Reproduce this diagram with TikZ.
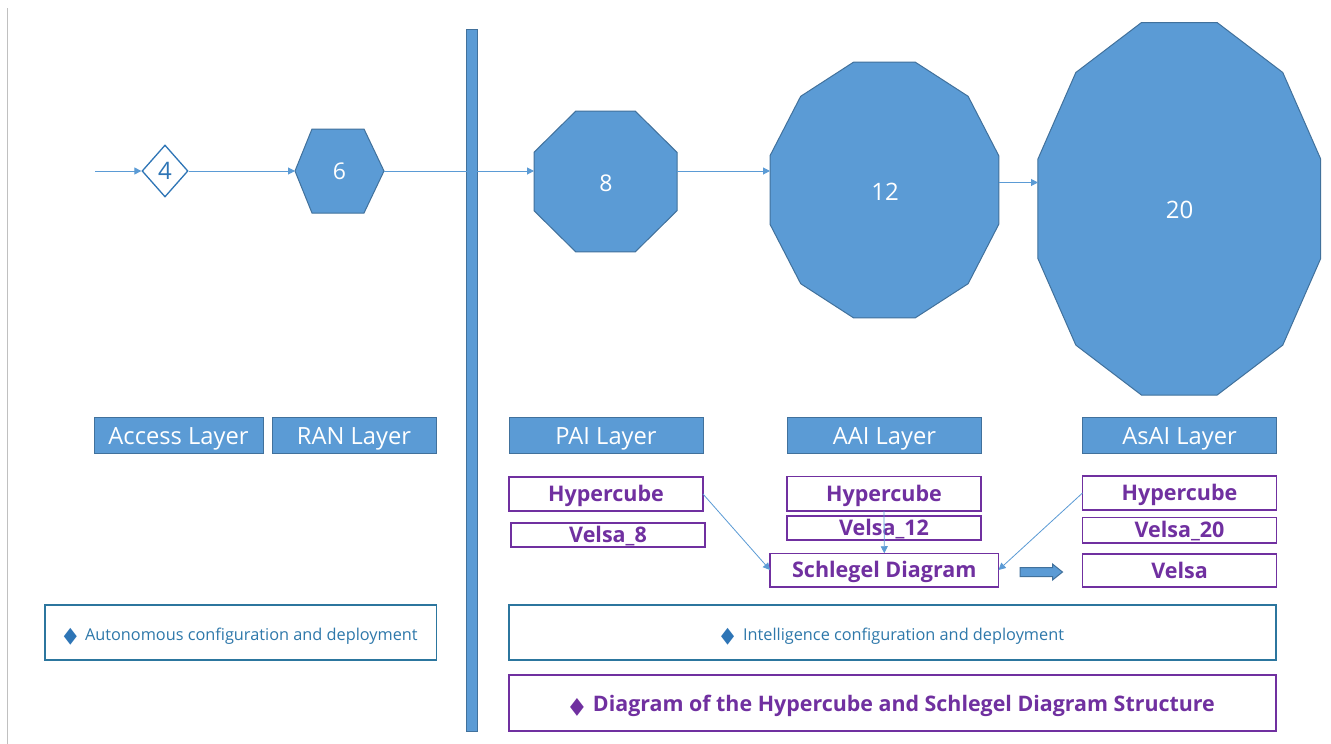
\documentclass[tikz,border=0pt]{standalone}
\usepackage{fontspec}
\setmainfont{Open Sans}
\newfontfamily\symfont{DejaVu Sans}
\usetikzlibrary{arrows.meta,shapes.geometric}
\definecolor{sfill}{RGB}{91,155,213}
\definecolor{sedge}{RGB}{65,113,156}
\definecolor{dblue}{RGB}{46,117,182}
\definecolor{tealb}{RGB}{44,118,158}
\definecolor{tealt}{RGB}{46,120,170}
\definecolor{purp}{RGB}{112,48,160}
\newcommand\mypoly[6]{%
  \filldraw[shp] ({#1+#3*cos(#6)},{#2+#4*sin(#6)})
    \foreach \k in {1,...,#5} { -- ({#1+#3*cos(#6+360*\k/#5)},{#2+#4*sin(#6+360*\k/#5)}) } -- cycle;}
\newcommand\mybullet[1]{\raisebox{-1.5pt}{\symfont\fontsize{#1}{#1}\selectfont\scalebox{1}[1.3]{◆}}}
\tikzset{
  shp/.style={fill=sfill,draw=sedge,line width=1pt},
  conn/.style={draw=sfill,line width=1pt,-{Triangle[length=7pt,width=7pt]}},
  anchorbox/.style={inner sep=0pt,outer sep=0pt,text=white,font=\fontsize{23}{23}\selectfont},
  layerbox/.style={fill=sfill,draw=sedge,line width=1pt,inner sep=0pt,outer sep=0pt,minimum height=36pt,
     text=white,font=\fontsize{23.7}{24}\selectfont,text height=18pt,text depth=0pt},
  pbox/.style={fill=white,draw=purp,line width=1.5pt,inner sep=0pt,outer sep=0pt,minimum width=194pt,
     text=purp,font=\fontsize{21.5}{22}\selectfont\bfseries,text height=15.6pt,text depth=0pt},
  bbox/.style={fill=white,draw=tealb,line width=1.8pt,inner sep=0pt,outer sep=0pt,minimum height=55pt,
     text=tealt,font=\fontsize{16.3}{17}\selectfont,text height=16pt,text depth=0pt},
}
\begin{document}
\begin{tikzpicture}[x=1pt,y=-1pt]
\useasboundingbox (0,0) rectangle (1331,744);
\fill[white] (0,0) rectangle (1331,744);
% faint left rule
\draw[draw={rgb,255:red,192;green,192;blue,192},line width=1.2pt] (7.5,8) -- (7.5,744);
% vertical bar
\filldraw[shp] (466,29) rectangle (477.5,731);

% shapes
\node[diamond,draw=dblue,fill=white,line width=1.3pt,minimum width=46pt,minimum height=52pt,inner sep=0pt,
      text=dblue,font=\fontsize{24}{24}\selectfont] (n4) at (165,171) {4};
\filldraw[shp] (295,171) -- (312,129) -- (364,129) -- (384,171) -- (364,213) -- (312,213) -- cycle;
\node[anchorbox,minimum width=89pt,minimum height=84pt] (n6) at (339.5,171) {6};
\mypoly{605.5}{181.5}{77.4}{76.3}{8}{22.5}
\node[anchorbox,minimum width=143pt,minimum height=141pt] (n8) at (605.5,181.5) {};
\node[text=white,font=\fontsize{23}{23}\selectfont] at (606,183) {8};
\mypoly{884.4}{190}{118.4}{132.5}{12}{15}
\node[anchorbox,minimum width=228.8pt,minimum height=256pt] (n12) at (884.4,190) {};
\node[text=white,font=\fontsize{24}{24}\selectfont] at (885,191.5) {12};
\mypoly{1179.3}{208.8}{146.3}{192.8}{12}{15}
\node[anchorbox,minimum width=282.6pt,minimum height=372.4pt] (n20) at (1179.3,208.8) {};
\node[text=white,font=\fontsize{24}{24}\selectfont] at (1179.5,210) {20};

% connectors
\coordinate (start) at (95,171);
\draw[conn] (start) -- (n4.west);
\draw[conn] (n4.east) -- (n6.west);
\draw[conn] (n6.east) -- (n6.east -| n8.west);
\draw[conn] (n6.east -| n8.east) -- (n6.east -| n12.west);
\coordinate (r12) at (n12.east |- 0,182.5);
\draw[conn] (r12) -- (r12 -| n20.west);

% layer boxes
\node[layerbox,minimum width=169pt] (acc) at (178.5,435) {Access Layer};
\node[layerbox,minimum width=164pt] (ran) at (354,435) {RAN Layer};
\node[layerbox,minimum width=194pt] (pai) at (606,435.5) {PAI Layer};
\node[layerbox,minimum width=194pt] (aai) at (884.5,435.5) {AAI Layer};
\node[layerbox,minimum width=194pt] (asai) at (1179.5,435.5) {AsAI Layer};

% purple boxes
\node[pbox,minimum height=34pt] (hp) at (606,494) {Hypercube};
\node[pbox,minimum height=24pt] (v8) at (608,535) {Velsa\_8};
\node[pbox,minimum height=34.5pt] (ha) at (884,493.5) {Hypercube};
\node[pbox,minimum height=24pt] (v12) at (884,528) {Velsa\_12};
\node[pbox,minimum height=33.5pt,minimum width=228.5pt] (sch) at (884.3,570) {Schlegel Diagram};
\node[pbox,minimum height=34pt] (hs) at (1179.5,493) {Hypercube};
\node[pbox,minimum height=25.5pt] (v20) at (1179.5,530) {Velsa\_20};
\node[pbox,minimum height=33pt] (vel) at (1179.5,570.5) {Velsa};

\draw[conn,line width=0.8pt] (hp.east) -- (sch.west);
\draw[conn,line width=0.8pt] (ha.south) -- (sch.north);
\draw[conn,line width=0.8pt] (hs.west) -- (sch.east);

% block arrow
\filldraw[shp] (1020,567.5) -- (1052.5,567.5) -- (1052.5,564) -- (1062.5,572) -- (1052.5,580)
   -- (1052.5,576.5) -- (1020,576.5) -- cycle;

% bottom boxes
\node[bbox,minimum width=391.5pt] (auto) at (240.8,632.5)
  {\textcolor{dblue}{\mybullet{17}}\hspace{8pt}Autonomous configuration and deployment};
\node[bbox,minimum width=767pt] (intel) at (892.5,632.5)
  {\textcolor{dblue}{\mybullet{17}}\hspace{9pt}Intelligence configuration and deployment};
\node[bbox,draw=purp,minimum width=767pt,minimum height=55.5pt,text=purp,
      font=\fontsize{21.4}{22}\selectfont\bfseries,text height=17pt] (diag) at (892.5,703)
  {\mybullet{18}\hspace{9pt}Diagram of the Hypercube and Schlegel Diagram Structure};
\end{tikzpicture}
\end{document}
